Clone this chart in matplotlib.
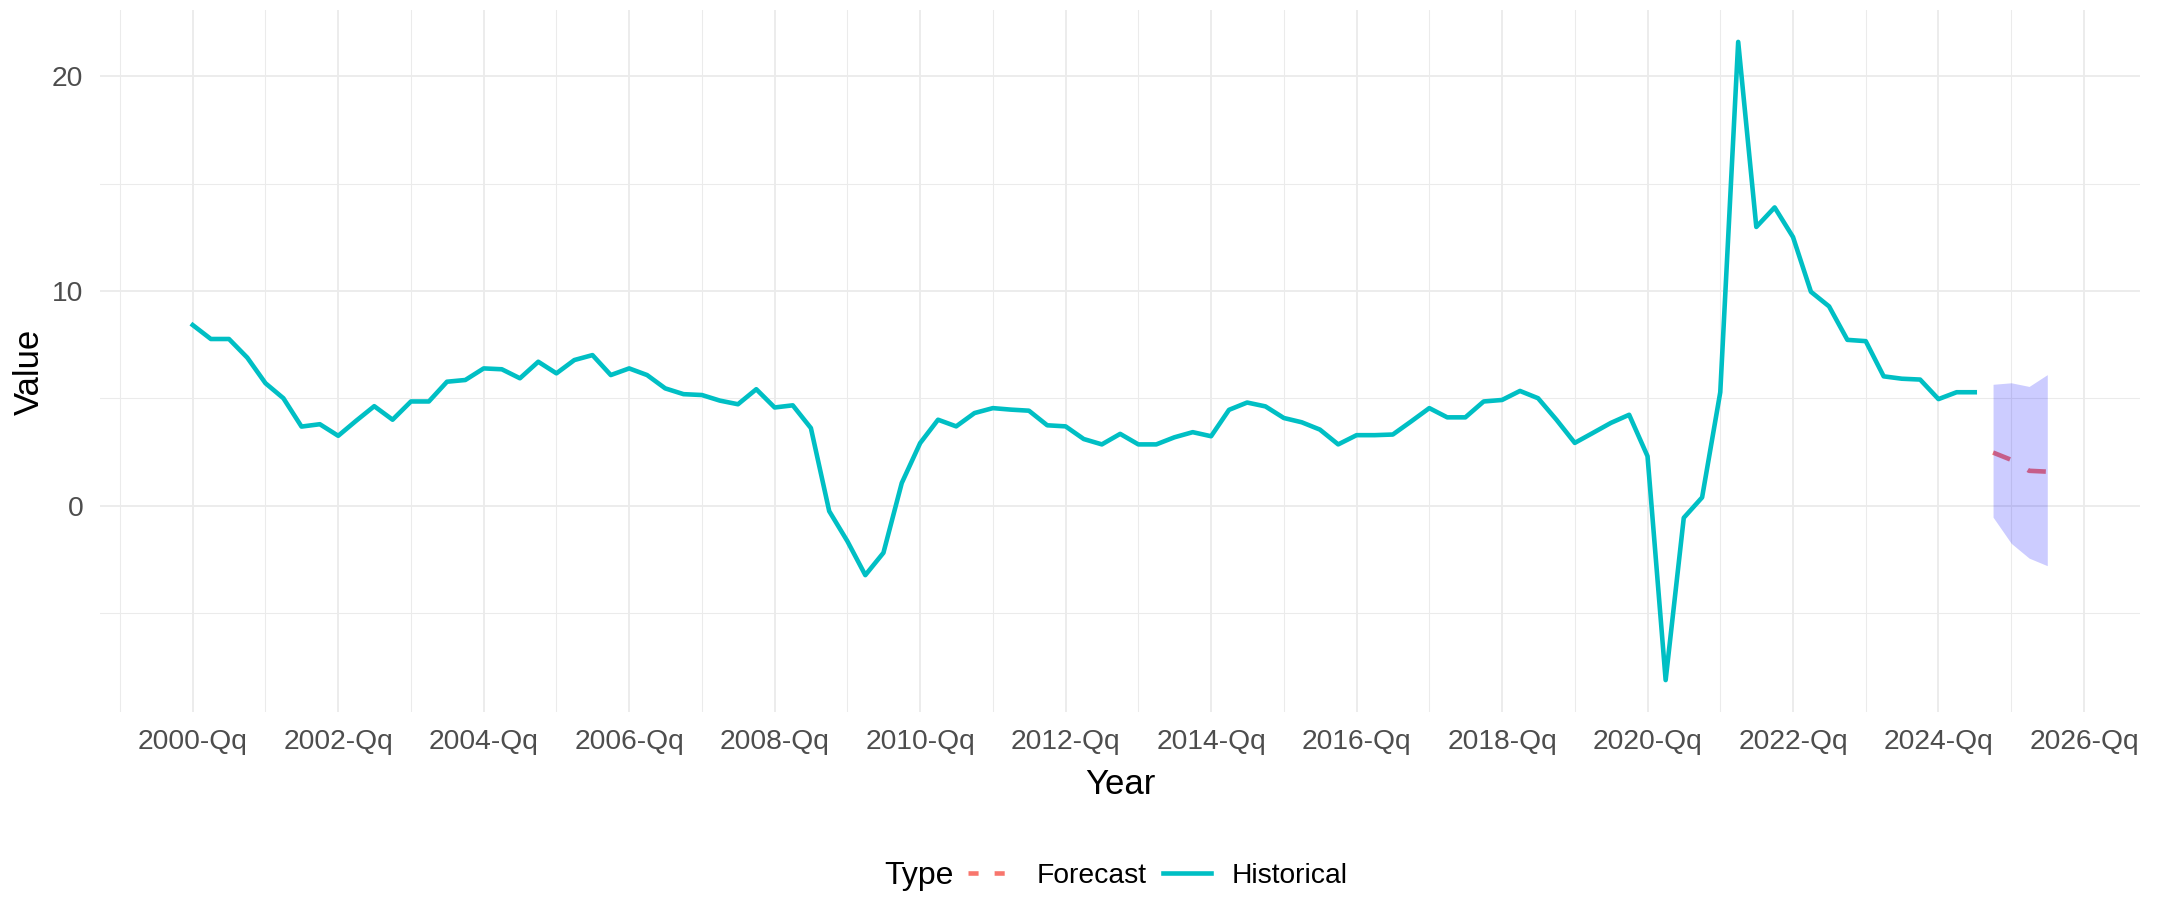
import numpy as np
import pandas as pd
import matplotlib
matplotlib.use("Agg")
import matplotlib.pyplot as plt
from matplotlib.lines import Line2D

plt.rcParams['font.family'] = ['Liberation Sans', 'DejaVu Sans']

# ---- data ----
hist_start = "2000Q1"
hist_values = [
    8.41, 7.76, 7.76, 6.89, 5.70, 5.00, 3.68, 3.79, 3.25, 3.95,
    4.63, 4.00, 4.85, 4.85, 5.77, 5.85, 6.39, 6.35, 5.93, 6.70,
    6.16, 6.78, 7.01, 6.08, 6.39, 6.08, 5.46, 5.19, 5.15, 4.89,
    4.72, 5.42, 4.57, 4.67, 3.61, -0.26, -1.66, -3.24, -2.20, 1.05,
    2.91, 4.00, 3.69, 4.31, 4.54, 4.47, 4.42, 3.74, 3.69, 3.10,
    2.85, 3.34, 2.85, 2.85, 3.18, 3.42, 3.23, 4.46, 4.80, 4.62,
    4.08, 3.88, 3.54, 2.85, 3.28, 3.28, 3.31, 3.92, 4.54, 4.11,
    4.11, 4.85, 4.92, 5.34, 5.00, 4.00, 2.92, 3.38, 3.85, 4.23,
    2.30, -8.13, -0.57, 0.38, 5.28, 21.60, 12.98, 13.89, 12.51, 9.96,
    9.28, 7.72, 7.66, 6.02, 5.91, 5.87, 4.96, 5.28, 5.28,
]
fc_start = "2024Q4"
fc_values = [2.47, 2.13, 1.62, 1.58]
fc_upper = [5.65, 5.72, 5.55, 6.10]
fc_lower = [-0.54, -1.76, -2.45, -2.80]

tick_years = list(range(2000, 2027, 2))
tick_labels = [f"{y}-Qq" for y in tick_years]
legend_labels = ["Forecast", "Historical"]


def to_decimal(periods):
    st = periods.start_time
    return st.year + (st.dayofyear - 1) / 365.25


hx = to_decimal(pd.period_range(hist_start, periods=len(hist_values), freq="Q"))
fx = to_decimal(pd.period_range(fc_start, periods=len(fc_values), freq="Q"))

# ---- styling ----
col_hist = "#00BFC4"
col_fc = "#F8766D"
grid_col = "#EBEBEB"
tick_col = "#4D4D4D"

W, H = 2160, 899
fig = plt.figure(figsize=(W / 100, H / 100), dpi=100)
ax = fig.add_axes([100 / W, 187 / H, 2040 / W, 702 / H])

# limits with 5% expansion like ggplot
xmin, xmax = min(hx.min(), fx.min()), max(hx.max(), fx.max())
ymin = min(min(hist_values), min(fc_lower))
ymax = max(max(hist_values), max(fc_upper))
dx, dy = (xmax - xmin) * 0.05, (ymax - ymin) * 0.05
ax.set_xlim(xmin - dx, xmax + dx)
ax.set_ylim(ymin - dy, ymax + dy)

# grid
ax.set_xticks(tick_years)
ax.set_xticklabels(tick_labels)
ax.set_xticks([y + 1 for y in tick_years[:-1]] + [1999], minor=True)
ax.set_yticks([0, 10, 20])
ax.set_yticklabels(["0", "10", "20"])
ax.set_yticks([-5, 5, 15], minor=True)
ax.grid(which="major", color=grid_col, lw=1.3)
ax.grid(which="minor", color=grid_col, lw=0.75)
ax.set_axisbelow(True)
for s in ax.spines.values():
    s.set_visible(False)
ax.tick_params(which="both", length=0)
ax.tick_params(axis="x", pad=12, labelsize=20.3, labelcolor=tick_col)
ax.tick_params(axis="y", pad=12, labelsize=20.3, labelcolor=tick_col)

# data
ax.plot(hx, hist_values, color=col_hist, lw=3.3, solid_joinstyle="round", zorder=3)
ax.plot(fx, fc_values, color=col_fc, lw=3.3, dashes=(4, 4.5), zorder=3)
ax.fill_between(fx, fc_lower, fc_upper, color="blue", alpha=0.2, lw=0, zorder=4)

# axis titles
fig.text(1120 / W, 1 - 785 / H, "Year", ha="center", va="center", fontsize=25)
fig.text(29 / W, 1 - 372 / H, "Value", ha="center", va="center", fontsize=25, rotation=90)

# legend
fig.text(884 / W, 1 - 876 / H, "Type", ha="left", va="center", fontsize=23)
handles = [
    Line2D([], [], color=col_fc, lw=3.3, dashes=(2.2, 3.5)),
    Line2D([], [], color=col_hist, lw=3.3),
]
fig.legend(handles, legend_labels, loc="center left",
           bbox_to_anchor=(968 / W, 1 - 876 / H), ncol=2, frameon=False,
           fontsize=20.3, handlelength=1.7, handletextpad=0.75,
           columnspacing=0.55, borderaxespad=0, borderpad=0)

fig.savefig("out.png", dpi=100)
